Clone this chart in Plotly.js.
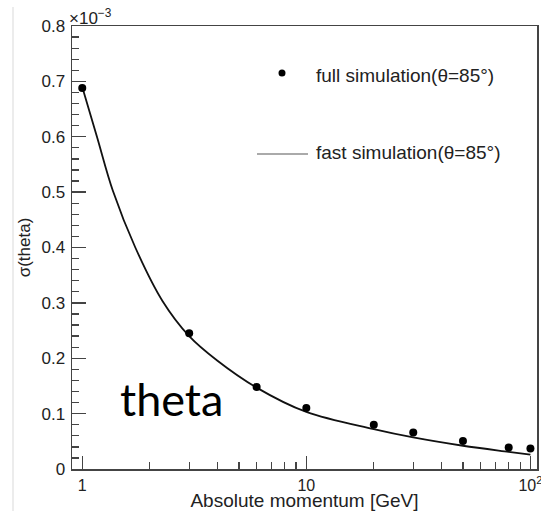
<!DOCTYPE html>
<html>
<head>
<meta charset="utf-8">
<script src="https://cdn.plot.ly/plotly-3.0.1.min.js"></script>
<style>html,body{margin:0;padding:0;background:#fff;}#chart{width:541px;height:511px;}</style>
</head>
<body>
<div id="chart"></div>
<script>
// Full simulation points (momentum in GeV, sigma(theta) in units of 1e-3)
var fullMomentum = [1, 3, 6, 10, 20, 30, 50, 80, 100];
var fullSigma = [0.688, 0.245, 0.148, 0.110, 0.080, 0.066, 0.0505, 0.039, 0.037];
// Fast simulation curve
var fastMomentum = [1, 1.163, 1.371, 1.725, 2.284, 3, 4, 6, 10, 20, 30, 50, 80, 100];
var fastSigma = [0.690, 0.600, 0.502, 0.400, 0.303, 0.240, 0.196, 0.147, 0.103, 0.072, 0.057, 0.042, 0.031, 0.026];
// Tick labels
var xTickVals = [1, 10, 100];
var xTickText = ['1', '10', '10<sup>2</sup>'];
var xMinorVals = [2, 3, 4, 5, 6, 7, 8, 9, 20, 30, 40, 50, 60, 70, 80, 90];
var yTickVals = [0, 0.1, 0.2, 0.3, 0.4, 0.5, 0.6, 0.7, 0.8];
var yTickText = ['0', '0.1', '0.2', '0.3', '0.4', '0.5', '0.6', '0.7', '0.8'];

var FONT = 'Liberation Sans, Arial, sans-serif';
var TXT = '#222';
var AX = '#444';

var traces = [
  {
    x: fastMomentum, y: fastSigma, type: 'scatter', mode: 'lines',
    line: {color: '#111', width: 1.8, shape: 'spline', smoothing: 1},
    name: 'fast simulation(θ=85°)'
  },
  {
    x: fullMomentum, y: fullSigma, type: 'scatter', mode: 'markers',
    marker: {color: '#000', size: 8, symbol: 'circle'},
    name: 'full simulation(θ=85°)'
  }
];

var L = 72, R = 537, T = 26, B = 469;
function px(x) { return (x - L) / (R - L); }
function py(y) { return (B - y) / (B - T); }

var layout = {
  width: 541, height: 511,
  margin: {l: L, r: 541 - R, t: T, b: 511 - B, pad: 0},
  paper_bgcolor: '#fff', plot_bgcolor: '#fff',
  showlegend: false,
  font: {family: FONT, size: 17, color: TXT},
  xaxis: {
    type: 'log',
    range: [Math.log10(0.9), Math.log10(107)],
    showgrid: false, zeroline: false,
    showline: true, linecolor: AX, linewidth: 1.5, mirror: true,
    ticks: 'inside', ticklen: 13, tickwidth: 1.3, tickcolor: AX,
    tickmode: 'array', tickvals: xTickVals, ticktext: xTickText,
    tickfont: {family: FONT, size: 16, color: TXT},
    ticklabelstandoff: 1,
    ticklabeloverflow: 'allow',
    minor: {tickmode: 'array', tickvals: xMinorVals, ticks: 'inside', ticklen: 7, tickwidth: 1.3, tickcolor: AX, showgrid: false},
    title: {text: 'Absolute momentum [GeV]', font: {family: FONT, size: 19, color: TXT}, standoff: 2}
  },
  yaxis: {
    range: [0, 0.8],
    showgrid: false, zeroline: false,
    showline: true, linecolor: AX, linewidth: 1.5, mirror: true,
    ticks: 'inside', ticklen: 14, tickwidth: 1.3, tickcolor: AX,
    tickmode: 'array', tickvals: yTickVals, ticktext: yTickText,
    tickfont: {family: FONT, size: 17, color: TXT},
    ticklabelstandoff: 2,
    minor: {dtick: 0.02, ticks: 'inside', ticklen: 7, tickwidth: 1.3, tickcolor: AX, showgrid: false},
    title: {text: 'σ(theta)', font: {family: FONT, size: 17, color: TXT}, standoff: 6}
  },
  shapes: [
    {type: 'line', xref: 'paper', yref: 'paper', x0: px(13), x1: px(13), y0: py(7), y1: py(511),
     line: {color: '#e6e6e6', width: 1.5}},
    {type: 'circle', xref: 'paper', yref: 'paper', x0: px(278.5), x1: px(285.5), y0: py(76.5), y1: py(69.5),
     fillcolor: '#000', line: {color: '#000', width: 0}},
    {type: 'line', xref: 'paper', yref: 'paper', x0: px(257), x1: px(308), y0: py(154), y1: py(154),
     line: {color: '#aaa', width: 2}}
  ],
  annotations: [
    {xref: 'paper', yref: 'paper', x: px(67), y: py(17), xanchor: 'left', yanchor: 'middle', showarrow: false,
     text: '×10<sup>−3</sup>', font: {family: FONT, size: 17, color: TXT}},
    {xref: 'paper', yref: 'paper', x: px(314), y: py(75), xanchor: 'left', yanchor: 'middle', showarrow: false,
     text: 'full simulation(θ=85°)', font: {family: FONT, size: 19, color: TXT}},
    {xref: 'paper', yref: 'paper', x: px(314), y: py(152), xanchor: 'left', yanchor: 'middle', showarrow: false,
     text: 'fast simulation(θ=85°)', font: {family: FONT, size: 19, color: TXT}},
    {xref: 'paper', yref: 'paper', x: px(118), y: py(399), xanchor: 'left', yanchor: 'middle', showarrow: false,
     text: 'theta', font: {family: 'Lato, Carlito, Calibri, sans-serif', size: 45, color: '#000'}}
  ]
};

Plotly.newPlot('chart', traces, layout, {displayModeBar: false, staticPlot: true});
</script>
</body>
</html>
